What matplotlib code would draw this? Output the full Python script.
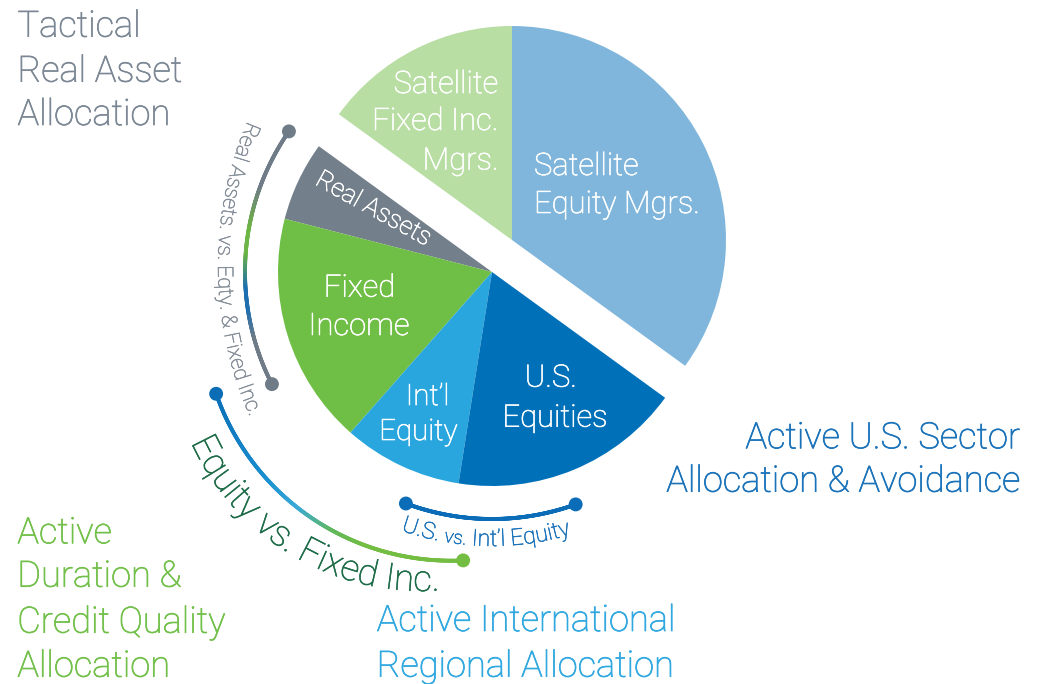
import numpy as np
import matplotlib
matplotlib.use("Agg")
import matplotlib.pyplot as plt
import matplotlib.patheffects as pe
from matplotlib.collections import LineCollection
from matplotlib.colors import to_rgb
from matplotlib.font_manager import FontProperties, findfont
from matplotlib.ft2font import FT2Font

W, H = 1045, 684

# ---------------- data ----------------
slice_names = ["Satellite Equity Mgrs.", "Satellite Fixed Inc. Mgrs.", "Real Assets",
               "Fixed Income", "Int’l Equity", "U.S. Equities"]
slice_values = [35, 15, 6, 17.5, 9, 17.5]
slice_group = ["satellite", "satellite", "core", "core", "core", "core"]
slice_colors = ["#80b6dc", "#b8dea3", "#737f8b", "#6fbe45", "#2aa6de", "#0070b9"]

# label lines for each slice
slice_label_lines = [["Satellite", "Equity Mgrs."],
                     ["Satellite", "Fixed Inc.", "Mgrs."],
                     ["Real Assets"],
                     ["Fixed", "Income"],
                     ["Int’l", "Equity"],
                     ["U.S.", "Equities"]]

outer_texts = [["Tactical", "Real Asset", "Allocation"],
               ["Active U.S. Sector", "Allocation & Avoidance"],
               ["Active", "Duration &", "Credit Quality", "Allocation"],
               ["Active International", "Regional Allocation"]]
outer_colors = ["#7b8794", "#1a72b9", "#72c04a", "#30a8e0"]

arc_texts = ["Real Assets. vs. Eqty. & Fixed Inc.", "Equity vs. Fixed Inc.", "U.S. vs. Int’l Equity"]
arc_text_colors = ["#868f99", "#1c6b47", "#1a72b9"]

# ---------------- layout (pixel coords, y from top) ----------------
def P(x, y):
    return (x, H - y)

CORE_C = P(492, 272)
SAT_C = P(512, 240)
RADIUS = 214

LIGHT = FontProperties(family=["Roboto", "DejaVu Sans"], weight="light")


def fp(size):
    f = LIGHT.copy()
    f.set_size(size)
    return f


def thick(color, w=0.45):
    return [pe.withStroke(linewidth=w, foreground=color)]


fig = plt.figure(figsize=(W / 100, H / 100), dpi=100)
ax = fig.add_axes([0, 0, 1, 1])

for grp, c in [("core", CORE_C), ("satellite", SAT_C)]:
    cols = [col if g == grp else "none" for col, g in zip(slice_colors, slice_group)]
    wedges, _ = ax.pie(slice_values, colors=cols, startangle=-36, counterclock=True,
                       radius=RADIUS, center=c, wedgeprops=dict(linewidth=0))
    for w, g in zip(wedges, slice_group):
        if g != grp:
            w.set_visible(False)

ax.set_xlim(0, W)
ax.set_ylim(0, H)
ax.set_aspect("auto")
ax.axis("off")

# ---------------- slice labels ----------------
# (x, baselines, ha, size)
slice_label_layout = [
    ([534, 534], [175, 213], "left", 22.3),
    ([498.5, 498.5, 498.5], [93, 130, 169.5], "right", 22.3),
    None,
    ([359.5, 359], [296.7, 335], "center", 22.3),
    ([427.5, 418.3], [405, 440], "center", 21.2),
    ([550.8, 555], [386.7, 426.7], "center", 22.3),
]
for lines, lay in zip(slice_label_lines, slice_label_layout):
    if lay is None:
        continue
    xs, ys, ha, sz = lay
    for t, x, y in zip(lines, xs, ys):
        ax.text(*P(x, y), t, color="white", ha=ha, va="baseline", fontproperties=fp(sz),
                path_effects=thick("white"))

ax.text(*P(373.5, 209), slice_label_lines[2][0], color="white", ha="center", va="center",
        rotation=-29, rotation_mode="anchor", fontproperties=fp(18.3),
        path_effects=thick("white"))

# ---------------- outer labels ----------------
outer_layout = [
    (17.5, [36.7, 81.7, 125], "left"),
    (1020, [448.3, 491.7], "right"),
    (17.3, [543.3, 586.7, 632.7, 676.7], "left"),
    (376.7, [631, 676.7], "left"),
]
for lines, col, (x, ys, ha) in zip(outer_texts, outer_colors, outer_layout):
    for t, y in zip(lines, ys):
        ax.text(*P(x, y), t, color=col, ha=ha, va="baseline", fontproperties=fp(26.1),
                path_effects=thick(col, 0.5))


# ---------------- arcs ----------------
def grad_arc(center, r, a0, a1, stops, lw, dot_colors):
    th = np.radians(np.linspace(a0, a1, 400))
    x = center[0] + r * np.cos(th)
    y = center[1] + r * np.sin(th)
    pts = np.column_stack([x, y])
    segs = np.stack([pts[:-1], pts[1:]], axis=1)
    mids = np.degrees((th[:-1] + th[1:]) / 2)
    sa = [s[0] for s in stops]
    sc = np.array([to_rgb(s[1]) for s in stops])
    cols = np.column_stack([np.interp(mids, sa, sc[:, k]) for k in range(3)])
    ax.add_collection(LineCollection(segs, colors=cols, linewidths=lw, capstyle="round"))
    ax.scatter([x[0], x[-1]], [y[0], y[-1]], s=100, c=dot_colors, zorder=5, linewidths=0)


GREY = "#6f7b87"
grad_arc(CORE_C, 247, 145.3, 207, [(145, GREY), (160, GREY), (170, "#6db544"), (176, "#6db544"),
                                    (184, "#1d6fb0"), (189, "#1d6fb0"), (196, GREY), (207, GREY)],
         2.8, [GREY, GREY])
EQ_C = P(451, 312)
grad_arc(EQ_C, 248.7, 199.2, 272.8, [(199, "#0a6db6"), (222, "#1a8fd0"), (232, "#3aaad8"),
                                     (242, "#62b85a"), (250, "#74bd43"), (273, "#74bd43")],
         2.8, ["#0a6db6", "#74bd43"])
grad_arc(CORE_C, 247, 249.6, 289.8, [(249, "#0b6db7"), (290, "#0b6db7")], 2.8,
         ["#0b6db7", "#0b6db7"])


# ---------------- curved text ----------------
def arc_text(s, center, r_base, a_start, a_end, color, scales=None):
    font = FT2Font(findfont(LIGHT))
    font.set_size(100, 72)  # 100 px per em
    adv = np.array([font.load_char(ord(ch)).linearHoriAdvance / 65536 for ch in s])
    sc = np.ones(len(s)) if scales is None else np.asarray(scales, float)
    adv = adv * sc
    span = np.radians(a_end - a_start) * r_base
    em_px = span / adv.sum() * 100
    fs_pt = em_px * 72 / 100
    pos = 0.0
    for ch, a, k in zip(s, adv, sc):
        w = a * em_px / 100
        th = np.radians(a_start) + (pos + w / 2) / r_base
        pos += w
        if ch == " ":
            continue
        x = center[0] + r_base * np.cos(th)
        y = center[1] + r_base * np.sin(th)
        ax.text(x, y, ch, color=color, ha="center", va="baseline",
                rotation=np.degrees(th) + 90, rotation_mode="anchor",
                fontproperties=fp(fs_pt * k), path_effects=thick(color, 0.4))


arc_text(arc_texts[0], P(589, 266), 371, 157.0, 204.0, arc_text_colors[0])
arc_text(arc_texts[1], P(422, 337), 254, 204.5, 274.0, arc_text_colors[1])
us_scales = [1.0 if i not in (5, 6, 7) else 0.82 for i in range(len(arc_texts[2]))]
arc_text(arc_texts[2], CORE_C, 274, 250.6, 286.8, arc_text_colors[2], us_scales)

fig.savefig("out.png", dpi=100)
